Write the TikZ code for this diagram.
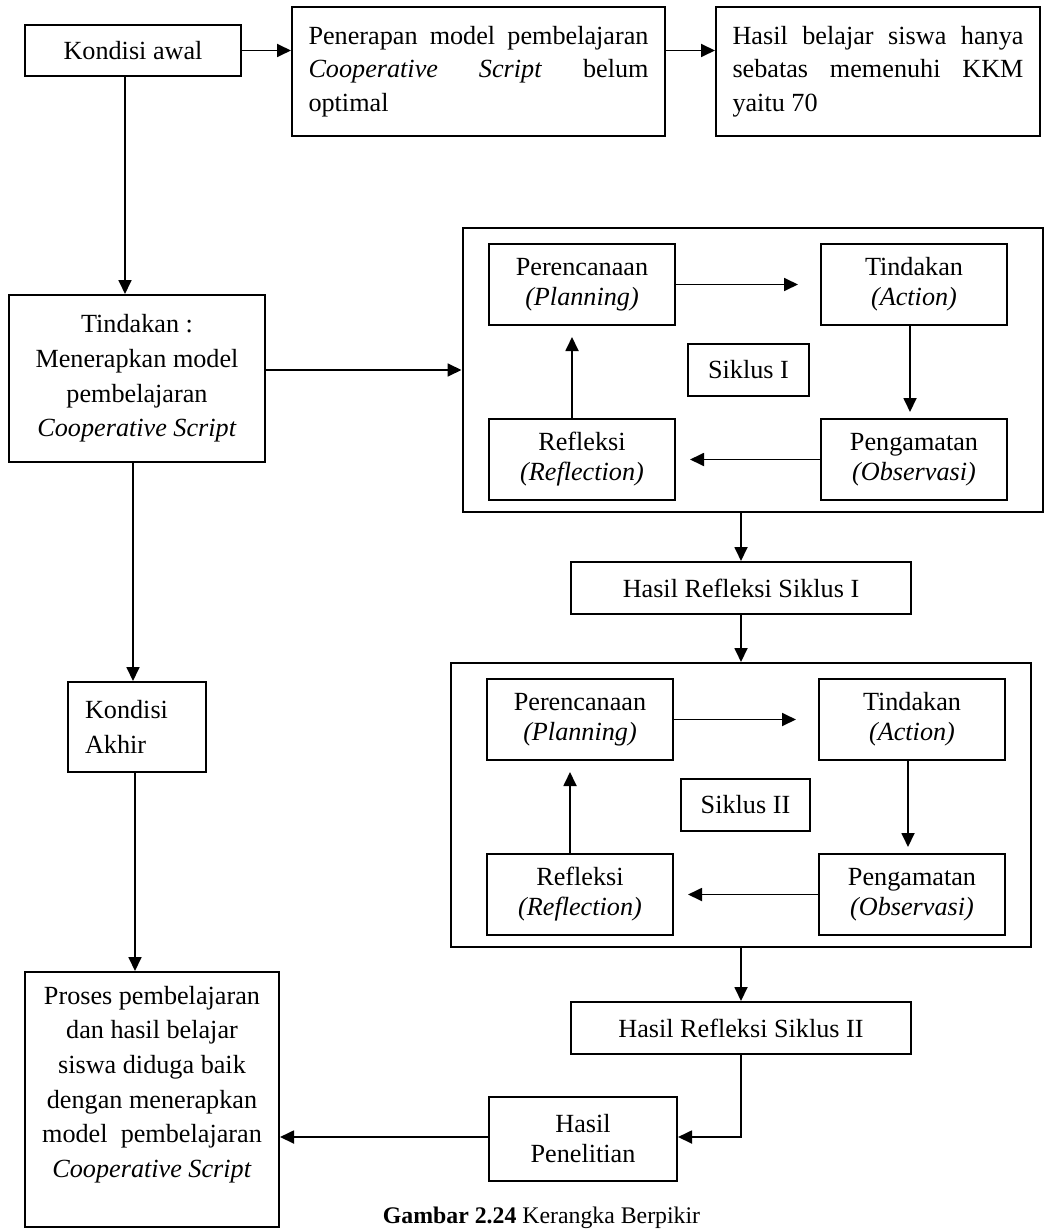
\documentclass[tikz,border=0pt]{standalone}
\usepackage{fontspec}
\setmainfont{Liberation Serif}
\usepackage{tikz}
\usetikzlibrary{arrows.meta,positioning}

\begin{document}
\begin{tikzpicture}[x=0.5pt, y=-0.5pt,
    font=\fontsize{13.1}{17.3}\selectfont,
    box/.style={draw, line width=1pt, inner sep=0pt, align=center},
    stepbox/.style={box, minimum width=93pt, minimum height=40.5pt, font=\fontsize{13.1}{15}\selectfont},
    parbox/.style={box, minimum height=64.5pt, align=justify, font=\fontsize{13.1}{16.75}\selectfont},
    arr/.style={line width=0.9pt, -{Triangle[length=7pt, width=6.5pt]}}]
    \useasboundingbox (0,0) rectangle (1045,1230);

    % Kondisi awal
    \node (kawal) [box, minimum width=108pt, minimum height=25.5pt] at (133, 50.5) {Kondisi awal};
    \node (terap) [parbox, minimum width=186.5pt, text width=170pt] at (478.5, 71.5)
        {Penerapan model pembelajaran \linebreak \textit{Cooperative Script} belum \linebreak optimal};
    \node (hasil) [parbox, minimum width=162pt, text width=145.5pt] at (878, 71.5)
        {Hasil belajar siswa hanya \linebreak sebatas memenuhi KKM \linebreak yaitu 70};

    % Tindakan and the end
    \node (tindakan) [box, minimum width=128pt, minimum height=83.5pt] at (137, 378.5)
        {Tindakan :\\ Menerapkan model\\ pembelajaran\\ \textit{Cooperative Script}};
    \node (kakhir) [box, minimum width=69pt, minimum height=45pt, text width=52pt, align=left] at (137, 727)
        {Kondisi\\ Akhir};
    \node (proses) [box, minimum width=127pt, minimum height=127.5pt] at (152, 1099.5) {};
    \node (prosestxt) [align=center] at (152, 1084.5)
        {Proses pembelajaran\\ dan hasil belajar\\ siswa diduga baik\\ dengan menerapkan\\ model\ \ pembelajaran\\ \textit{Cooperative Script}};

    % Siklus I and Siklus II
    \foreach \c/\cx/\bx/\dy in {I/0/752.5/0, II/-2/741/435} {
        \node (cyc\c) [box, minimum width=290pt, minimum height=142pt] at (\bx, {370+\dy}) {};
        \node (plan\c) [stepbox] at ({582+\cx}, {284.5+\dy}) {Perencanaan\\ \textit{(Planning)}};
        \node (tind\c) [stepbox] at ({914+\cx}, {284.5+\dy}) {Tindakan\\ \textit{(Action)}};
        \node (refl\c) [stepbox] at ({582+\cx}, {459.5+\dy}) {Refleksi\\ \textit{(Reflection)}};
        \node (amat\c) [stepbox] at ({914+\cx}, {459.5+\dy}) {Pengamatan\\ \textit{(Observasi)}};
        \node (lbl\c) [box, inner xsep=10pt, minimum height=26pt] at ({748.5+\cx*1.5}, {370+\dy}) {Siklus \c};
        \draw[arr, shorten >=11pt] (plan\c.east) -- (plan\c.east -| tind\c.west);
        \draw[arr, shorten >=3pt] ([xshift=-2pt]tind\c.south) -- ([xshift=-2pt]tind\c.south |- amat\c.north);
        \draw[arr, shorten >=7pt] (amat\c.west) -- (amat\c.west -| refl\c.east);
        \draw[arr, shorten >=5.5pt] ([xshift=-5pt]refl\c.north) -- ([xshift=-5pt]refl\c.north |- plan\c.south);
    }

    % Hasil refleksi
    \node (hrI) [box, minimum width=170pt, minimum height=26pt] at (741, 588) {Hasil Refleksi Siklus I};
    \node (hrII) [box, minimum width=170pt, minimum height=26pt] at (741, 1028) {Hasil Refleksi Siklus II};
    \node (teliti) [box, minimum width=94pt, minimum height=42pt, font=\fontsize{13.1}{15}\selectfont] at (583, 1139)
        {Hasil\\ Penelitian};

    % Connectors
    \draw[arr] (kawal.east) -- (kawal.east -| terap.west);
    \draw[arr] (kawal.east -| terap.east) -- (kawal.east -| hasil.west);
    \draw[arr] ([xshift=-4pt]kawal.south) -- ([xshift=-4pt]kawal.south |- tindakan.north);
    \draw[arr] ([yshift=4.25pt]tindakan.east) -- ([yshift=4.25pt]tindakan.east -| cycI.west);
    \draw[arr] ([xshift=-2pt]tindakan.south) -- ([xshift=-2pt]tindakan.south |- kakhir.north);
    \draw[arr] ([xshift=-1pt]kakhir.south) -- ([xshift=-1pt]kakhir.south |- proses.north);
    \draw[arr] (hrI.north |- cycI.south) -- (hrI.north);
    \draw[arr] (hrI.south) -- (hrI.south |- cycII.north);
    \draw[arr] (hrII.north |- cycII.south) -- (hrII.north);
    \draw[arr] (hrII.south) |- ([yshift=1pt]teliti.east);
    \draw[arr] ([yshift=1pt]teliti.west) -- ([yshift=1pt]teliti.west -| proses.east);

    % Caption
    \node (judul) [anchor=base, font=\fontsize{11.9}{14}\selectfont] at (541.5, 1223)
        {\textbf{Gambar 2.24} Kerangka Berpikir};
\end{tikzpicture}
\end{document}
